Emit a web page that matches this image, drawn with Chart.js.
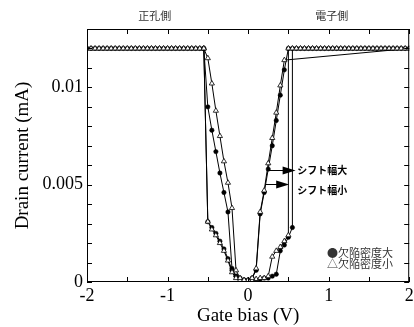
<!DOCTYPE html>
<html><head><meta charset="utf-8">
<script src="https://cdn.jsdelivr.net/npm/chart.js@4/dist/chart.umd.min.js"></script>
<style>html,body{margin:0;padding:0;background:#fff}#wrap{width:414px;height:327px}</style>
</head><body><div id="wrap"><canvas id="c" width="414" height="327"></canvas></div>
<script>
// ---- data ----
const seriesNames = ['欠陥密度大', '欠陥密度小'];
const sideLabels = ['正孔側', '電子側'];
const shiftLabels = ['シフト幅大', 'シフト幅小'];
const xTickValues = [-2, -1, 0, 1, 2];
const xTickLabels = ['-2', '-1', '0', '1', '2'];
const yTickValues = [0, 0.005, 0.01];
const yTickLabels = ['0', '0.005', '0.01'];

// 欠陥密度大 (filled circles): sweep -2 -> 2, then 2 -> -0.55
const bigX = [-2,-1.95,-1.9,-1.85,-1.8,-1.75,-1.7,-1.65,-1.6,-1.55,-1.5,-1.45,-1.4,-1.35,-1.3,-1.25,-1.2,-1.15,-1.1,-1.05,-1,-0.95,-0.9,-0.85,-0.8,-0.75,-0.7,-0.65,-0.6,-0.55,
  -0.5,-0.45,-0.4,-0.35,-0.3,-0.25,-0.2,-0.15,-0.1,-0.05,0,0.05,0.1,0.15,0.2,0.25,0.3,0.35,0.4,0.45,0.5,0.55,0.55,
  0.6,0.65,0.7,0.75,0.8,0.85,0.9,0.95,1,1.05,1.1,1.15,1.2,1.25,1.3,1.35,1.4,1.45,1.5,1.55,1.6,1.65,1.7,1.75,1.8,1.85,1.9,1.95,2,
  0.5,0.45,0.4,0.35,0.3,0.25,0.2,0.15,0.1,0.05,0,-0.05,-0.1,-0.15,-0.2,-0.25,-0.3,-0.35,-0.4,-0.45,-0.5,-0.55];
const bigY = [0.012,0.012,0.012,0.012,0.012,0.012,0.012,0.012,0.012,0.012,0.012,0.012,0.012,0.012,0.012,0.012,0.012,0.012,0.012,0.012,0.012,0.012,0.012,0.012,0.012,0.012,0.012,0.012,0.012,0.012,
  0.0031,0.0028,0.0025,0.0021,0.0017,0.0012,0.0006,0.0003,0.00015,0.0001,0.00005,0.0001,0.0001,0.00015,0.0002,0.0002,0.0003,0.0004,0.0016,0.0019,0.0023,0.0028,0.012,
  0.012,0.012,0.012,0.012,0.012,0.012,0.012,0.012,0.012,0.012,0.012,0.012,0.012,0.012,0.012,0.012,0.012,0.012,0.012,0.012,0.012,0.012,0.012,0.012,0.012,0.012,0.012,0.012,0.012,
  0.012,0.0109,0.0096,0.0083,0.0070,0.0058,0.0046,0.0035,0.0006,0.0002,0.0001,0.0001,0.0002,0.0003,0.0007,0.0036,0.0046,0.0056,0.0067,0.0078,0.0090,0.012];

// 欠陥密度小 (open triangles)
const smallX = [-2,-1.95,-1.9,-1.85,-1.8,-1.75,-1.7,-1.65,-1.6,-1.55,-1.5,-1.45,-1.4,-1.35,-1.3,-1.25,-1.2,-1.15,-1.1,-1.05,-1,-0.95,-0.9,-0.85,-0.8,-0.75,-0.7,-0.65,-0.6,-0.55,
  -0.5,-0.45,-0.4,-0.35,-0.3,-0.25,-0.2,-0.15,-0.1,-0.05,0,0.05,0.1,0.15,0.2,0.25,0.3,0.35,0.4,0.45,0.5,0.5,
  0.55,0.6,0.65,0.7,0.75,0.8,0.85,0.9,0.95,1,1.05,1.1,1.15,1.2,1.25,1.3,1.35,1.4,1.45,1.5,1.55,1.6,1.65,1.7,1.75,1.8,1.85,1.9,1.95,2,
  0.45,0.4,0.35,0.3,0.25,0.2,0.15,0.1,0.05,0,-0.05,-0.1,-0.15,-0.2,-0.25,-0.3,-0.35,-0.4,-0.45,-0.5,-0.55];
const smallY = [0.012,0.012,0.012,0.012,0.012,0.012,0.012,0.012,0.012,0.012,0.012,0.012,0.012,0.012,0.012,0.012,0.012,0.012,0.012,0.012,0.012,0.012,0.012,0.012,0.012,0.012,0.012,0.012,0.012,0.012,
  0.0031,0.0027,0.0024,0.0020,0.0016,0.0011,0.0005,0.0002,0.0001,0.00005,0.00003,0.0001,0.00015,0.0002,0.0002,0.0003,0.0013,0.0016,0.0018,0.0021,0.0024,0.012,
  0.012,0.012,0.012,0.012,0.012,0.012,0.012,0.012,0.012,0.012,0.012,0.012,0.012,0.012,0.012,0.012,0.012,0.012,0.012,0.012,0.012,0.012,0.012,0.012,0.012,0.012,0.012,0.012,0.012,0.012,
  0.0114,0.0101,0.0087,0.0074,0.0061,0.0047,0.0036,0.0007,0.0002,0.0001,0.0001,0.0002,0.0006,0.0038,0.0051,0.0062,0.0075,0.0088,0.0102,0.0115,0.012];

// arrows for the shift annotations: [x start, x end, y] in data units
const arrowBig = [0.26, 0.59, 0.00576];
const arrowSmall = [0.215, 0.51, 0.00502];

// ---- drawing ----
const serif = '"Liberation Serif", "Times New Roman", serif';
const jp = '"Noto Sans CJK JP", "Noto Sans", sans-serif';

const framePlugin = {
  id: 'frame',
  afterDraw(chart) {
    const {ctx, chartArea: a, scales: {x, y}} = chart;
    ctx.save();
    ctx.strokeStyle = '#000';
    ctx.lineWidth = 1;
    ctx.strokeRect(a.left + 0.5, a.top + 0.5, a.right - a.left - 1, a.bottom - a.top - 1);
    ctx.beginPath();
    for (let v = -2; v <= 2.0001; v += 0.5) {
      const px = Math.round(x.getPixelForValue(v)) + 0.5;
      ctx.moveTo(px, a.bottom); ctx.lineTo(px, a.bottom - 5);
      ctx.moveTo(px, a.top); ctx.lineTo(px, a.top + 5);
    }
    for (let v = 0; v <= 0.0130001; v += 0.001) {
      const py = Math.round(y.getPixelForValue(v)) + 0.5;
      ctx.moveTo(a.left, py); ctx.lineTo(a.left + 5, py);
      ctx.moveTo(a.right, py); ctx.lineTo(a.right - 5, py);
    }
    ctx.stroke();

    ctx.fillStyle = '#333';
    ctx.font = '11px ' + jp;
    ctx.textAlign = 'center';
    ctx.textBaseline = 'middle';
    ctx.fillText(sideLabels[0], x.getPixelForValue(-1.16), 16);
    ctx.fillText(sideLabels[1], x.getPixelForValue(1.04), 16);

    ctx.fillStyle = '#000';
    [arrowBig, arrowSmall].forEach(ar => {
      const x0 = x.getPixelForValue(ar[0]), x1 = x.getPixelForValue(ar[1]);
      const py = Math.round(y.getPixelForValue(ar[2])) + 0.5;
      ctx.beginPath(); ctx.moveTo(x0, py); ctx.lineTo(x1 - 12, py); ctx.stroke();
      ctx.beginPath(); ctx.moveTo(x1, py); ctx.lineTo(x1 - 13, py - 4); ctx.lineTo(x1 - 13, py + 4); ctx.closePath(); ctx.fill();
    });
    ctx.font = 'bold 10px ' + jp;
    ctx.textAlign = 'left';
    ctx.fillText(shiftLabels[0], x.getPixelForValue(0.61), y.getPixelForValue(0.00576));
    ctx.fillText(shiftLabels[1], x.getPixelForValue(0.61), y.getPixelForValue(0.0047));

    ctx.fillStyle = '#333';
    ctx.font = '11px ' + jp;
    ctx.fillText('●' + seriesNames[0], x.getPixelForValue(0.98), y.getPixelForValue(0.0015));
    ctx.fillText('△' + seriesNames[1], x.getPixelForValue(0.98), y.getPixelForValue(0.00092));
    ctx.restore();
  }
};

new Chart(document.getElementById('c').getContext('2d'), {
  type: 'scatter',
  data: {
    datasets: [
      {
        label: seriesNames[1],
        data: smallX.map((v, i) => ({x: v, y: smallY[i]})),
        showLine: true, borderColor: '#000', borderWidth: 1,
        pointStyle: 'triangle', pointRadius: 3, pointBorderWidth: 0.8,
        pointBackgroundColor: '#fff', pointBorderColor: '#000'
      },
      {
        label: seriesNames[0],
        data: bigX.map((v, i) => ({x: v, y: bigY[i]})),
        showLine: true, borderColor: '#000', borderWidth: 1,
        pointStyle: 'circle', pointRadius: 2.2, pointBorderWidth: 0.5,
        pointBackgroundColor: '#000', pointBorderColor: '#000'
      }
    ]
  },
  options: {
    responsive: false, animation: false, devicePixelRatio: 1,
    layout: {padding: {top: 29, right: -3, left: 0, bottom: 0}},
    plugins: {legend: {display: false}, tooltip: {enabled: false}},
    scales: {
      x: {
        type: 'linear', min: -2, max: 2,
        afterBuildTicks(s) { s.ticks = xTickValues.map(v => ({value: v})); },
        afterFit(s) { s.height = 45; s.paddingLeft = 0; s.paddingRight = 0; },
        grid: {display: false, drawTicks: false},
        border: {display: false},
        ticks: {
          callback: (v) => xTickLabels[xTickValues.indexOf(v)],
          font: {family: serif, size: 18}, color: '#000', padding: 3, maxRotation: 0, autoSkip: false
        },
        title: {display: true, text: 'Gate bias (V)', font: {family: serif, size: 19}, color: '#000', padding: {top: 0, bottom: 0}}
      },
      y: {
        type: 'linear', min: 0, max: 0.013,
        afterBuildTicks(s) { s.ticks = yTickValues.map(v => ({value: v})); },
        afterFit(s) { s.width = 87; s.paddingTop = 0; s.paddingBottom = 0; },
        grid: {display: false, drawTicks: false},
        border: {display: false},
        ticks: {
          callback: (v) => yTickLabels[yTickValues.indexOf(v)],
          font: {family: serif, size: 18}, color: '#000', padding: 4, autoSkip: false
        },
        title: {display: true, text: 'Drain current (mA)', font: {family: serif, size: 19}, color: '#000', padding: {top: 12, bottom: 0}}
      }
    }
  },
  plugins: [framePlugin]
});
</script>
</body></html>
